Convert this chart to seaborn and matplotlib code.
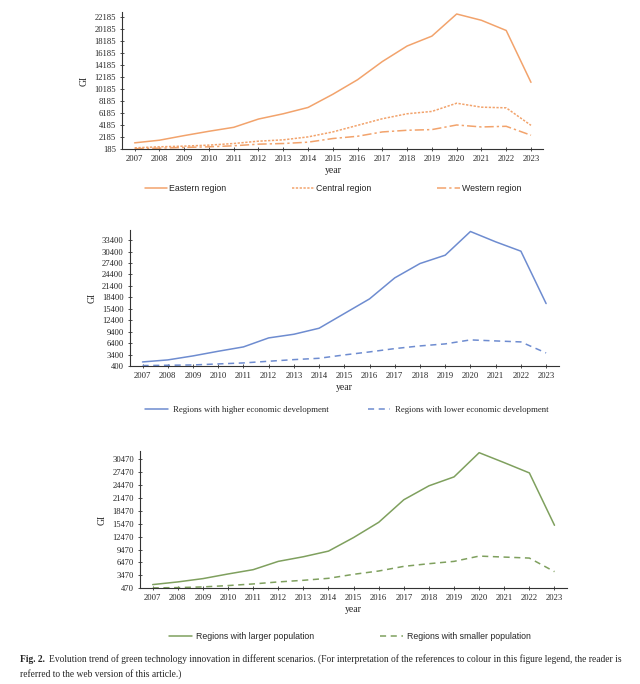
import matplotlib.pyplot as plt
import numpy as np
import pandas as pd
import seaborn as sns

years = [str(y) for y in range(2007, 2024)]

# Panel 1: regions
eastern = [1230, 1670, 2440, 3160, 3820, 5200, 6080, 7130, 9330, 11760, 14790, 17380, 19030, 22720, 21670, 19970, 11320]
central = [400, 570, 680, 850, 1120, 1510, 1730, 2220, 3050, 4150, 5250, 6080, 6470, 7840, 7180, 7070, 4150]
western = [240, 350, 460, 570, 740, 1010, 1120, 1340, 1950, 2330, 3050, 3330, 3440, 4210, 3880, 3990, 2500]

# Panel 2: economic development
higher_econ = [1450, 1980, 3030, 4250, 5390, 7750, 8710, 10290, 14140, 17990, 23500, 27260, 29450, 35660, 32950, 30500, 16760]
lower_econ = [490, 580, 660, 930, 1190, 1630, 2060, 2410, 3290, 4080, 4950, 5650, 6180, 7230, 6960, 6700, 3810]

# Panel 3: population
larger_pop = [1320, 1940, 2710, 3790, 4790, 6720, 7800, 9110, 12270, 15810, 21060, 24300, 26380, 32010, 29690, 27300, 15120]
smaller_pop = [550, 620, 780, 1090, 1470, 1940, 2320, 2780, 3710, 4480, 5560, 6180, 6720, 7950, 7720, 7490, 4330]

yticks1 = list(range(185, 22186, 2000))
yticks2 = list(range(400, 33401, 3000))
yticks3 = list(range(470, 30471, 3000))

sns.set_style("ticks")
plt.rcParams['font.family'] = ['Liberation Serif', 'DejaVu Serif']

orange = '#F2A36C'
blue = '#6E8CD0'
green = '#7FA05E'

fig = plt.figure(figsize=(6.4, 6.84), dpi=100)

panels = [
    dict(rect=[0.191, 0.782, 0.658, 0.200], yticks=yticks1, ylim=(185, 23000),
         series=[('Eastern region', eastern, orange, '-'),
                 ('Central region', central, orange, (0, (1.5, 1))),
                 ('Western region', western, orange, (0, (6, 2, 1.5, 2)))],
         leg_y=0.724, leg_x=0.52, leg_font='Liberation Sans', colsp=7.5, pad=0.2),
    dict(rect=[0.203, 0.465, 0.670, 0.199], yticks=yticks2, ylim=(400, 36100),
         series=[('Regions with higher economic development', higher_econ, blue, '-'),
                 ('Regions with lower economic development', lower_econ, blue, (0, (4, 3)))],
         leg_y=0.401, leg_x=0.542, leg_font='Liberation Serif', colsp=4.5, pad=0.5),
    dict(rect=[0.219, 0.140, 0.667, 0.200], yticks=yticks3, ylim=(470, 32300),
         series=[('Regions with larger population', larger_pop, green, '-'),
                 ('Regions with smaller population', smaller_pop, green, (0, (4, 3)))],
         leg_y=0.069, leg_x=0.547, leg_font='Liberation Sans', colsp=7.5, pad=0.5),
]

x = np.arange(len(years))
for p in panels:
    ax = fig.add_axes(p['rect'])
    for name, vals, col, ls in p['series']:
        df = pd.DataFrame({'pos': x, 'GI': vals})
        sns.lineplot(data=df, x='pos', y='GI', ax=ax, color=col, linestyle=ls,
                     linewidth=1.1, label=name)
    ax.set_xlim(-0.5, len(years) - 0.5)
    ax.set_ylim(*p['ylim'])
    ax.set_xticks(x)
    ax.set_xticklabels(years, fontsize=6.2)
    ax.set_yticks(p['yticks'])
    ax.set_yticklabels([str(t) for t in p['yticks']], fontsize=6.2)
    ax.tick_params(axis='both', direction='inout', length=3, width=0.6, pad=3, color='#333333')
    for s in ['top', 'right']:
        ax.spines[s].set_visible(False)
    for s in ['left', 'bottom']:
        ax.spines[s].set_linewidth(0.8)
        ax.spines[s].set_color('#333333')
    ax.set_xlabel('year', fontsize=7, labelpad=2)
    ax.set_ylabel('GI', fontsize=7, labelpad=4)
    ax.get_legend().remove()
    handles, labels = ax.get_legend_handles_labels()
    fig.legend(handles, labels, loc='center', bbox_to_anchor=(p['leg_x'], p['leg_y']),
               ncol=len(labels), frameon=False, handlelength=2.6, handletextpad=p['pad'],
               columnspacing=p['colsp'], prop={'family': p['leg_font'], 'size': 6.3})

# caption
cap_size = 6.85
bold = fig.text(0.031, 0.036, 'Fig. 2.', fontsize=cap_size, fontweight='bold', ha='left', va='center')
renderer = fig.canvas.get_renderer()
bb = bold.get_window_extent(renderer=renderer)
x_after = (bb.x1 + 4) / fig.bbox.width
fig.text(x_after, 0.036, 'Evolution trend of green technology innovation in different scenarios. '
         '(For interpretation of the references to colour in this figure legend, the reader is',
         fontsize=cap_size, ha='left', va='center')
fig.text(0.031, 0.015, 'referred to the web version of this article.)', fontsize=cap_size, ha='left', va='center')

fig.savefig('out.png', dpi=100, facecolor='white')
